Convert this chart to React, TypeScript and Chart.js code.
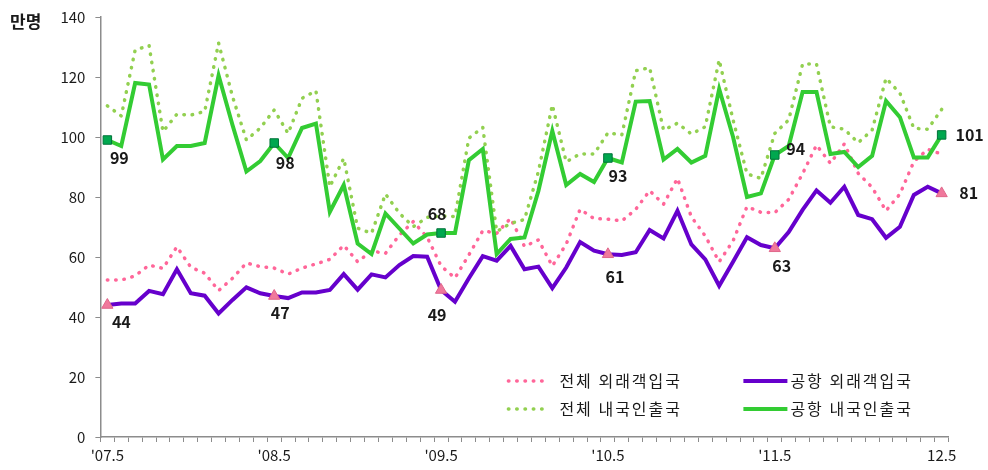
import React, { useEffect, useRef } from 'react';
import { Chart, registerables } from 'chart.js';

Chart.register(...registerables);

// Monthly categories, 2007.05 – 2012.05
const categories = [
  '07.05', '07.06', '07.07', '07.08', '07.09', '07.10', '07.11', '07.12',
  '08.01', '08.02', '08.03', '08.04', '08.05', '08.06', '08.07', '08.08', '08.09', '08.10', '08.11', '08.12',
  '09.01', '09.02', '09.03', '09.04', '09.05', '09.06', '09.07', '09.08', '09.09', '09.10', '09.11', '09.12',
  '10.01', '10.02', '10.03', '10.04', '10.05', '10.06', '10.07', '10.08', '10.09', '10.10', '10.11', '10.12',
  '11.01', '11.02', '11.03', '11.04', '11.05', '11.06', '11.07', '11.08', '11.09', '11.10', '11.11', '11.12',
  '12.01', '12.02', '12.03', '12.04', '12.05',
];

const tickLabelIndex = [0, 12, 24, 36, 48, 60];
const tickLabelText = ["'07.5", "'08.5", "'09.5", "'10.5", "'11.5", '12.5'];

const yTicks = [0, 20, 40, 60, 80, 100, 120, 140];

const seriesNames = ['공항 내국인출국', '공항 외래객입국', '전체 내국인출국', '전체 외래객입국'];

// 공항 내국인출국 (airport, Korean departures)
const airportKorean = [
  99, 97, 118, 117.5, 92.5, 97, 97, 98,
  120.5, 104, 88.5, 92, 98, 93, 103, 104.5, 75, 84, 64.5, 61, 74.5, 69.5,
  64.5, 67.5, 68, 68, 92.3, 96, 61, 66, 66.5, 82, 102, 84, 87.7, 85,
  93, 91.5, 111.8, 112, 92.5, 96, 91.5, 93.7, 116, 100, 80, 81.2,
  94, 97, 115, 115, 94.3, 95, 90, 93.7, 112, 106.6, 93.2, 93.2, 100.7,
];

// 공항 외래객입국 (airport, foreign arrivals)
const airportForeign = [
  44, 44.5, 44.5, 48.7, 47.6, 55.9, 47.9, 47.1,
  41.2, 45.7, 49.9, 47.9, 47, 46.3, 48.2, 48.2, 49, 54.3, 49.1, 54.2, 53.2, 57.3,
  60.3, 60.1, 49, 45.1, 52.9, 60.3, 58.8, 63.7, 55.9, 56.8, 49.6, 56.5, 65, 62.1,
  60.9, 60.7, 61.6, 69, 66.2, 75.4, 64.2, 59.2, 50.4, 58.4, 66.6, 64,
  62.9, 68.3, 75.7, 82.2, 78.1, 83.4, 74, 72.6, 66.4, 70.1, 80.7, 83.4, 81.2,
];

// 전체 내국인출국 (total, Korean departures)
const totalKorean = [
  110.4, 107, 129, 130.5, 101.8, 107.6, 107.3, 108.5,
  131.3, 113.5, 99, 103, 109, 101.2, 112.9, 115.4, 83.4, 92.9, 69.6, 67.9, 81, 74.6,
  70.1, 73.2, 73.7, 73.5, 99.6, 103.2, 68.5, 71.2, 72.5, 88.5, 110.7, 91.7, 94.4, 94.3,
  101.4, 100.7, 122.1, 123.1, 102.3, 104.6, 101, 103.4, 125.7, 105.7, 87.7, 86.2,
  101.2, 105.7, 124.3, 124.3, 103.4, 102.6, 98.1, 102.3, 119.6, 114.6, 102.9, 102.6, 109.2,
];

// 전체 외래객입국 (total, foreign arrivals)
const totalForeign = [
  52.3, 52.3, 53.7, 57.3, 56.2, 63.4, 56.6, 54.6,
  48.8, 52.9, 58, 56.8, 56.3, 54.3, 56.3, 57.7, 59.2, 63.9, 58.4, 62, 61.2, 67.3,
  71.8, 66.6, 57, 53, 60.7, 68.8, 67.9, 72.9, 63.5, 65.7, 57, 64.3, 75.9, 72.8,
  72.6, 72, 75.9, 82.1, 77.6, 86.2, 73.4, 67, 58.4, 65.4, 76.8, 74.9,
  74.8, 79.2, 87.8, 97.3, 91.2, 97.7, 87.9, 83.2, 75.4, 81, 91.8, 95.9, 94.3,
];

// indices that carry markers and value labels
const markIndex = [0, 12, 24, 36, 48, 60];

const FONT = "'Noto Sans CJK KR', 'Noto Sans', sans-serif";

const C_GREEN = '#33cc33';
const C_PURPLE = '#6600cc';
const C_LGREEN = '#92d050';
const C_PINK = '#ff6699';

// label offsets (px) relative to each marked point, per dataset
const labelOffsets: Record<number, number[][]> = {
  0: [[12, 18], [11, 20], [-4, -19], [10, 18], [21, -6], [28, 0]],
  1: [[14, 17], [6, 17], [-4, 25], [7, 23], [7, 18], [27, 0]],
};

const overlayPlugin = {
  id: 'overlay',
  afterDatasetsDraw(chart: any) {
    const ctx = chart.ctx as CanvasRenderingContext2D & { letterSpacing?: string };
    ctx.save();
    // value labels
    ctx.font = `bold 16px ${FONT}`;
    ctx.fillStyle = '#1a1a1a';
    ctx.textAlign = 'center';
    ctx.textBaseline = 'middle';
    Object.keys(labelOffsets).forEach((k) => {
      const ds = Number(k);
      const meta = chart.getDatasetMeta(ds);
      const data = chart.data.datasets[ds].data as number[];
      markIndex.forEach((idx, j) => {
        const pt = meta.data[idx];
        if (!pt) return;
        const [dx, dy] = labelOffsets[ds][j];
        ctx.fillText(String(Math.round(data[idx])), pt.x + dx, pt.y + dy);
      });
    });

    // unit label
    ctx.textAlign = 'left';
    ctx.font = `bold 17px ${FONT}`;
    ctx.fillStyle = '#1a1a1a';
    ctx.fillText('만명', 10, 22);

    // legend (2 x 2)
    const area = chart.chartArea;
    const items = [
      { ds: 3, x: area.left + 408, y: area.top + 364 },
      { ds: 1, x: area.left + 643, y: area.top + 364 },
      { ds: 2, x: area.left + 408, y: area.top + 392 },
      { ds: 0, x: area.left + 643, y: area.top + 392 },
    ];
    items.forEach((it) => {
      const d = chart.data.datasets[it.ds];
      const dotted = it.ds >= 2;
      ctx.save();
      ctx.strokeStyle = d.borderColor;
      ctx.lineWidth = dotted ? 3.5 : 4;
      ctx.lineCap = dotted ? 'round' : 'butt';
      if (dotted) ctx.setLineDash([0.5, 7.8]);
      ctx.beginPath();
      ctx.moveTo(it.x, it.y);
      ctx.lineTo(it.x + (dotted ? 40 : 44), it.y);
      ctx.stroke();
      ctx.restore();
      ctx.save();
      ctx.font = `16px ${FONT}`;
      ctx.letterSpacing = '2px';
      ctx.fillStyle = '#1a1a1a';
      ctx.textAlign = 'left';
      ctx.textBaseline = 'middle';
      ctx.fillText(d.label, it.x + (dotted ? 51 : 47), it.y);
      ctx.restore();
    });
    ctx.restore();
  },
};

export default function App() {
  const canvasRef = useRef<HTMLCanvasElement | null>(null);

  useEffect(() => {
    const canvas = canvasRef.current;
    if (!canvas) return;
    const isMark = (c: any) => markIndex.includes(c.dataIndex);

    const chart = new Chart(canvas, {
      type: 'line',
      data: {
        labels: categories,
        datasets: [
          {
            label: seriesNames[0],
            data: airportKorean,
            borderColor: C_GREEN,
            backgroundColor: C_GREEN,
            borderWidth: 4,
            tension: 0,
            pointStyle: 'rect',
            pointRadius: (c: any) => (isMark(c) ? 6 : 0),
            pointBackgroundColor: '#00a84f',
            pointBorderColor: '#00733a',
            pointBorderWidth: 1,
          },
          {
            label: seriesNames[1],
            data: airportForeign,
            borderColor: C_PURPLE,
            backgroundColor: C_PURPLE,
            borderWidth: 4,
            tension: 0,
            pointStyle: 'triangle',
            pointRadius: (c: any) => (isMark(c) ? 6.5 : 0),
            pointBackgroundColor: '#f0789c',
            pointBorderColor: '#e0668a',
            pointBorderWidth: 1,
          },
          {
            label: seriesNames[2],
            data: totalKorean,
            borderColor: C_LGREEN,
            backgroundColor: C_LGREEN,
            borderWidth: 3.5,
            borderDash: [0.5, 7.8],
            borderCapStyle: 'round',
            tension: 0,
            pointRadius: 0,
          },
          {
            label: seriesNames[3],
            data: totalForeign,
            borderColor: C_PINK,
            backgroundColor: C_PINK,
            borderWidth: 3.5,
            borderDash: [0.5, 7.8],
            borderCapStyle: 'round',
            tension: 0,
            pointRadius: 0,
          },
        ],
      },
      options: {
        responsive: false,
        animation: false,
        events: [],
        layout: { padding: { top: 17, right: 39.4, bottom: 0, left: 0 } },
        plugins: {
          legend: { display: false },
          tooltip: { enabled: false },
          title: { display: false },
        },
        scales: {
          x: {
            type: 'category',
            offset: true,
            border: { display: true, color: '#8c8c8c', width: 1.5 },
            grid: {
              display: true,
              drawOnChartArea: false,
              drawTicks: true,
              tickLength: 5,
              offset: true,
              color: '#8c8c8c',
              lineWidth: 1,
            },
            ticks: {
              autoSkip: false,
              maxRotation: 0,
              minRotation: 0,
              padding: 4,
              color: '#1a1a1a',
              font: { family: FONT, size: 15 },
              callback: (_v: any, i: number) => {
                const k = tickLabelIndex.indexOf(i);
                return k >= 0 ? tickLabelText[k] : '';
              },
            },
            afterFit: (s: any) => {
              s.height = 33;
              s.paddingLeft = 0;
              s.paddingRight = 0;
            },
          },
          y: {
            min: yTicks[0],
            max: yTicks[yTicks.length - 1],
            border: { display: true, color: '#8c8c8c', width: 1.5 },
            grid: {
              display: true,
              drawOnChartArea: false,
              drawTicks: true,
              tickLength: 5,
              color: '#8c8c8c',
            },
            ticks: {
              stepSize: 20,
              padding: 10,
              color: '#1a1a1a',
              font: { family: FONT, size: 15 },
            },
            afterBuildTicks: (s: any) => {
              s.ticks = yTicks.map((v) => ({ value: v }));
            },
            afterFit: (s: any) => {
              s.width = 100.4;
              s.paddingTop = 0;
              s.paddingBottom = 0;
            },
          },
        },
      },
      plugins: [overlayPlugin],
    } as any);

    return () => chart.destroy();
  }, []);

  return (
    <div style={{ position: 'fixed', left: 0, top: 0, width: 988, height: 470, background: '#fff' }}>
      <canvas ref={canvasRef} width={988} height={470} style={{ display: 'block' }} />
    </div>
  );
}
